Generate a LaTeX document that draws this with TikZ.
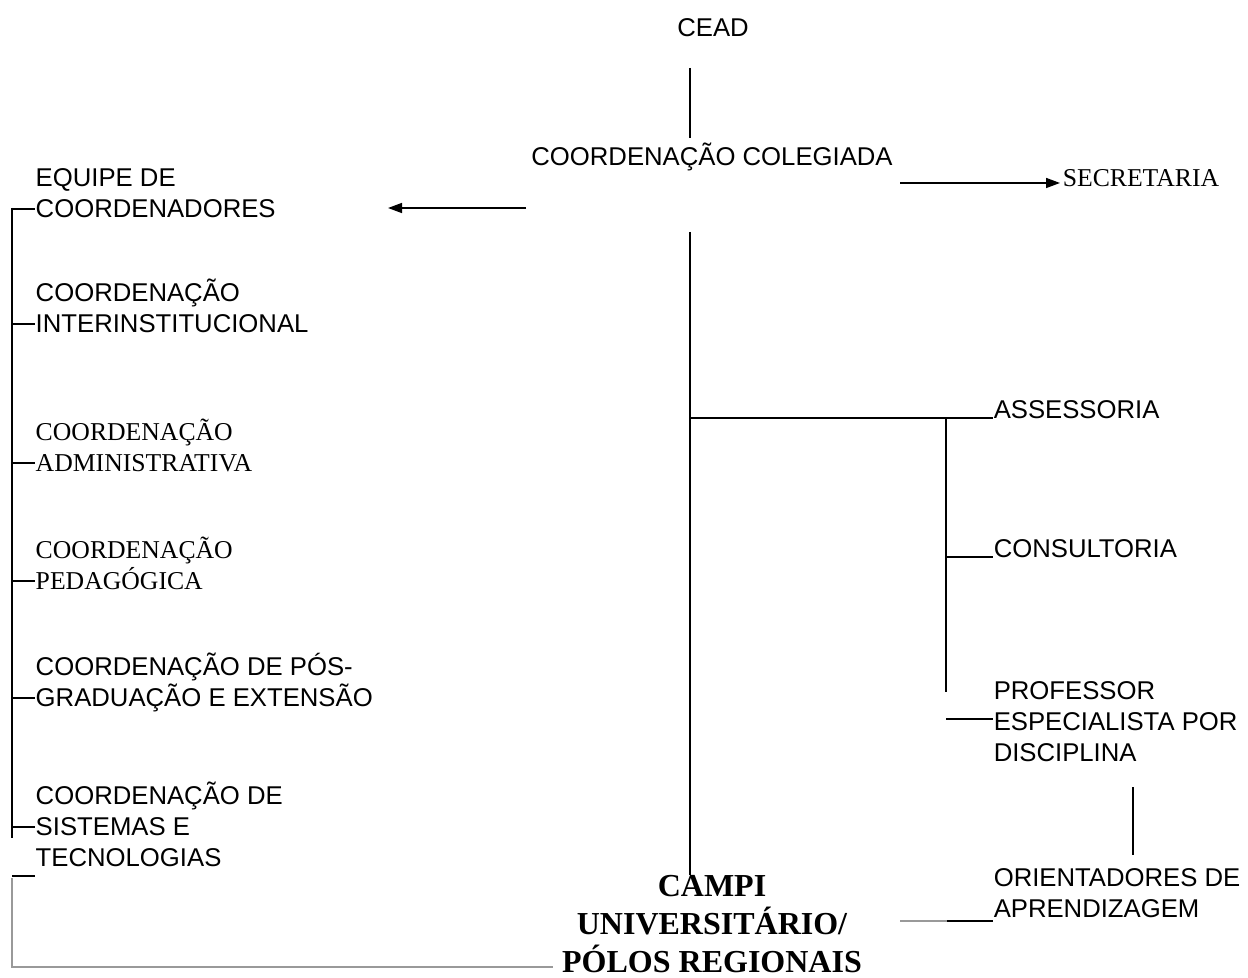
\documentclass[tikz,border=0pt]{standalone}
\usepackage{fontspec}
\setmainfont{Liberation Sans}
\newfontfamily\tnr{Liberation Serif}
\usetikzlibrary{arrows.meta}

\begin{document}
\begin{tikzpicture}[
	x=0.5pt,
	y=-0.5pt,
	line width=0.75pt,
	sn/.style={inner sep=0pt, font=\fontsize{12.85}{15.5}\selectfont, align=left, anchor=base west},
	tn/.style={sn, font=\fontsize{12.85}{15.5}\selectfont\tnr},
	bt/.style={inner sep=0pt, font=\fontsize{16}{19}\selectfont\tnr\bfseries, align=center, anchor=base},
	gl/.style={draw=black!40},
	ar/.style={-{Triangle[length=7pt,width=5pt]}},
	]
\useasboundingbox (0,0) rectangle (1248,978);

\node [sn, anchor=base] (cead) at (713,37) {CEAD};
\node [sn, anchor=base] (colegiada) at (712,166) {COORDENAÇÃO COLEGIADA};
\node [tn] (secretaria) at (1062,187) {SECRETARIA};

\node [sn] (equipe) at (35,218) {EQUIPE DE\\COORDENADORES};
\node [sn] (interinst) at (35,333) {COORDENAÇÃO\\INTERINSTITUCIONAL};
\node [tn] (administrativa) at (35,472) {COORDENAÇÃO\\ADMINISTRATIVA};
\node [tn] (pedagogica) at (35,589) {COORDENAÇÃO\\PEDAGÓGICA};
\node [sn] (posgrad) at (35,706) {COORDENAÇÃO DE PÓS-\\GRADUAÇÃO E EXTENSÃO};
\node [sn] (sistemas) at (35,866) {COORDENAÇÃO DE\\SISTEMAS E\\TECNOLOGIAS};

\node [sn] (assessoria) at (993,419) {ASSESSORIA};
\node [sn] (consultoria) at (993,558) {CONSULTORIA};
\node [sn] (professor) at (993,761) {PROFESSOR\\ESPECIALISTA POR\\DISCIPLINA};
\node [sn] (orientadores) at (993,917) {ORIENTADORES DE\\APRENDIZAGEM};

\node [bt] (campi) at (712,972) {CAMPI\\UNIVERSITÁRIO/\\PÓLOS REGIONAIS};

\coordinate (c1) at (690,68);
\coordinate (c2) at (690,138);
\coordinate (s1) at (900,183);
\coordinate (s2) at (1060,183);
\coordinate (e1) at (526,208);
\coordinate (e2) at (388,208);
\coordinate (m1) at (690,232);
\coordinate (m2) at (690,875);
\coordinate (b1) at (690,418);
\coordinate (b2) at (946,418);
\coordinate (b3) at (946,692);
\coordinate (b4) at (946,557);
\coordinate (b5) at (946,719);
\coordinate (p1) at (1133,787);
\coordinate (p2) at (1133,855);
\coordinate (o1) at (900,921);
\coordinate (o2) at (947,921);
\coordinate (l1) at (12,208);
\coordinate (l2) at (12,838);
\coordinate (u1) at (12,876);
\coordinate (g1) at (12,878);
\coordinate (g2) at (12,967);
\coordinate (g3) at (553,967);

\draw (c1) -- (c2);
\draw [ar] (s1) -- (s2);
\draw [ar] (e1) -- (e2);
\draw (m1) -- (m2);
\draw (b1) -- (b1 -| assessoria.west);
\draw (b2) -- (b3);
\draw (b4) -- (b4 -| consultoria.west);
\draw (b5) -- (b5 -| professor.west);
\draw (p1) -- (p2);
\draw [gl] (o1) -- (o2);
\draw (o2) -- (o2 -| orientadores.west);

\draw (l1) -- (l2);
\foreach \t [count=\i] in {209,324,463,581,698,827} {
	\coordinate (tk\i) at (12,\t);
	\draw (tk\i) -- (tk\i -| equipe.west);
}
\draw (u1) -- (u1 -| sistemas.west);
\draw [gl] (g1) -- (g2) -- (g3);
\end{tikzpicture}
\end{document}
